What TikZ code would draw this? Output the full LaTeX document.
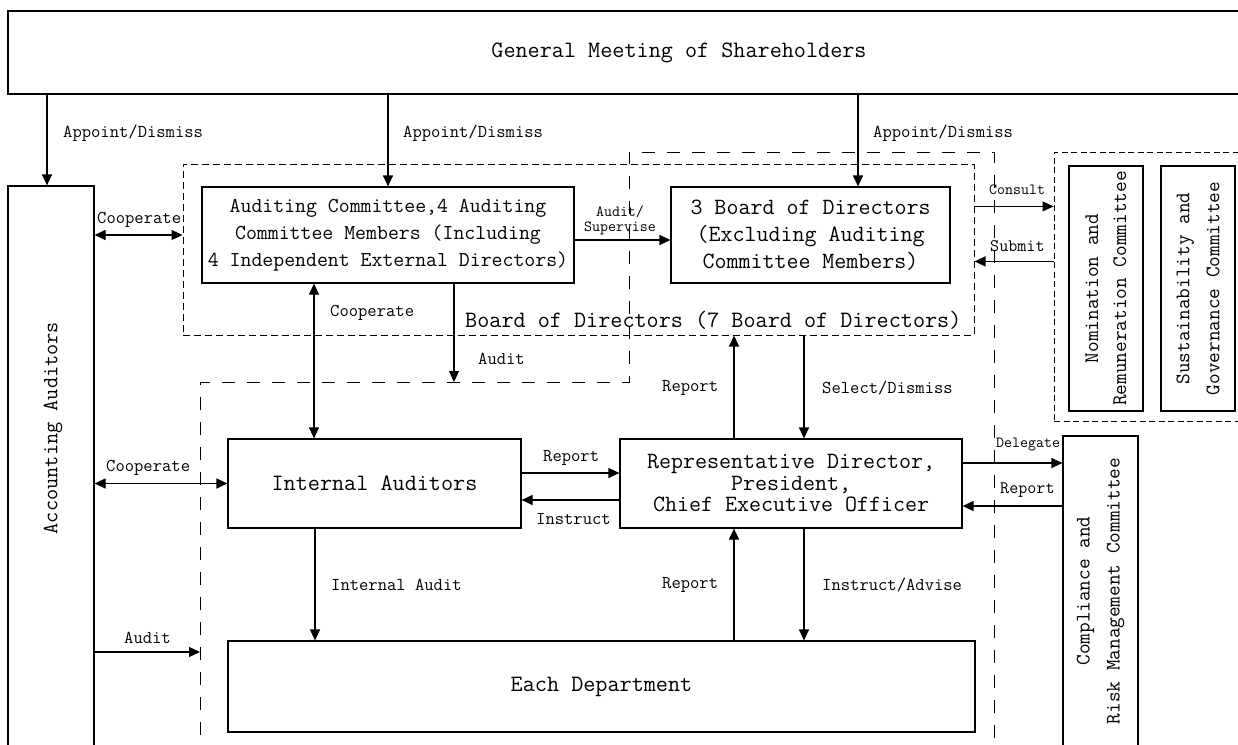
\documentclass[tikz,border=0pt]{standalone}
\usetikzlibrary{arrows.meta,calc}
\begin{document}
\begin{tikzpicture}[x=1pt,y=-1pt,
  box/.style={draw, line width=1.2pt, inner sep=0pt, align=center},
  lbl/.style={inner sep=0pt, anchor=west, font={\ttfamily\fontsize{18.1}{18.1}\selectfont}},
  slbl/.style={inner sep=0pt, align=center, font={\ttfamily\fontsize{15.5}{15}\selectfont}},
  arr/.style={line width=1.2pt, -{Triangle[length=11pt,width=10pt]}},
  dbl/.style={line width=1.2pt, {Triangle[length=11pt,width=10pt]}-{Triangle[length=11pt,width=10pt]}},
  fdash/.style={line width=1pt, dash pattern=on 7pt off 4pt},
  ldash/.style={line width=1pt, dash pattern=on 13pt off 12pt},
  ndash/.style={line width=1pt, dash pattern=on 6pt off 3.5pt},
  bigfont/.style={font={\ttfamily\fontsize{23.5}{27}\selectfont}},
]
\clip (0,0) rectangle (1238,744);
\fill[white] (0,0) rectangle (1238,744);

% ---------- boxes ----------
\node[box, bigfont, minimum width=1342pt, minimum height=83pt] (gm) at (679,52.5) {General Meeting of Shareholders};

\node[box, minimum width=86pt, minimum height=580pt] (acc) at (51,476) {};
\node[rotate=90, inner sep=0pt, font={\ttfamily\fontsize{21.7}{21.7}\selectfont}] (acctxt) at (53,428) {Accounting Auditors};

\node[draw, fdash, minimum width=791pt, minimum height=171pt, inner sep=0pt] (bodbox) at (578.5,249.5) {};
\node[inner sep=0pt, anchor=west, bigfont] (bodlbl) at (465,320) {Board of Directors (7 Board of Directors)};

\node[box, minimum width=372pt, minimum height=96pt, font={\ttfamily\fontsize{21.2}{27}\selectfont}] (ac) at (388,235)
  {Auditing Committee,4 Auditing\\Committee Members (Including\\4 Independent External Directors)};
\node[box, minimum width=279pt, minimum height=96pt, font={\ttfamily\fontsize{23.3}{27}\selectfont}] (bod3) at (810.5,235)
  {3 Board of Directors\\(Excluding Auditing\\Committee Members)};

\coordinate (exBL) at (200,760);
\coordinate (exTL) at (200,382);
\coordinate (exM)  at (629,382);
\coordinate (exMT) at (629,152);
\coordinate (exTR) at (994,152);
\coordinate (exBR) at (994,760);
\draw[ldash] (exBL) -- (exTL) -- (exM) -- (exMT) -- (exTR) -- (exBR);

\node[box, bigfont, minimum width=293pt, minimum height=89pt] (ia) at (374.5,483.5) {Internal Auditors};
\node[box, minimum width=342pt, minimum height=89pt, font={\ttfamily\fontsize{23.3}{21.5}\selectfont}] (rd) at (791,483.5)
  {Representative Director,\\President,\\Chief Executive Officer};
\node[box, bigfont, minimum width=747pt, minimum height=91pt] (dept) at (601.5,686.5) {Each Department};

\node[draw, ndash, minimum width=200pt, minimum height=269pt, inner sep=0pt] (nomdash) at (1154,286.5) {};
\node[box, rotate=90, minimum width=245pt, minimum height=74pt, font={\ttfamily\fontsize{20.7}{28}\selectfont}] (nom) at (1106,288.5)
  {Nomination and\\Remuneration Committee};
\node[box, rotate=90, minimum width=245pt, minimum height=74pt, font={\ttfamily\fontsize{20.7}{30}\selectfont}] (sust) at (1198,288.5)
  {Sustainability and\\Governance Committee};
\node[box, rotate=90, minimum width=310pt, minimum height=75pt, font={\ttfamily\fontsize{20.7}{30}\selectfont}] (comp) at (1100.5,591)
  {Compliance and\\Risk Management Committee};

% ---------- connectors ----------
\coordinate (t1) at ($(acc.north)+(-4,0)$);
\draw[arr] (gm.south -| t1) -- (t1);
\draw[arr] (gm.south -| ac.north) -- (ac.north);
\coordinate (t3) at ($(bod3.north)+(47.5,0)$);
\draw[arr] (gm.south -| t3) -- (t3);

\draw[dbl] (acc.east |- ac.west) -- (bodbox.west |- ac.west);
\coordinate (as1) at ($(ac.east)+(0,5)$);
\draw[arr] (as1) -- (bod3.west |- as1);

\coordinate (cv) at ($(ac.south)+(-74,0)$);
\draw[dbl] (cv) -- (ia.north -| cv);
\coordinate (au) at ($(ac.south)+(66,0)$);
\draw[arr] (au) -- (au |- exTL);

\draw[dbl] (acc.east |- ia.west) -- (ia.west);
\coordinate (r1) at ($(ia.east)+(0,-10.5)$);
\draw[arr] (r1) -- (rd.west |- r1);
\coordinate (i1) at ($(rd.west)+(0,16.5)$);
\draw[arr] (i1) -- (ia.east |- i1);

\coordinate (rup) at ($(rd.north)+(-57,0)$);
\draw[arr] (rup) -- (rup |- bodbox.south);
\coordinate (sel) at ($(rd.north)+(13,0)$);
\draw[arr] (sel |- bodbox.south) -- (sel);

\coordinate (iad) at ($(ia.south)+(-59.5,0)$);
\draw[arr] (iad) -- (iad |- dept.north);
\coordinate (rdn) at ($(rd.south)+(-57,0)$);
\draw[arr] (rdn |- dept.north) -- (rdn);
\coordinate (ins) at ($(rd.south)+(13,0)$);
\draw[arr] (ins) -- (ins |- dept.north);

\coordinate (exA) at (200,652);
\draw[arr] (acc.east |- exA) -- (exA);

\coordinate (con) at ($(bodbox.east |- bod3.north)+(0,20)$);
\draw[arr] (con) -- (nomdash.west |- con);
\coordinate (sub) at ($(bodbox.east |- bod3.north)+(0,75)$);
\draw[arr] (nomdash.west |- sub) -- (sub);

\coordinate (del) at ($(rd.east)+(0,-20.5)$);
\draw[arr] (del) -- (comp.north |- del);
\coordinate (rep) at ($(rd.east)+(0,22.5)$);
\draw[arr] (comp.north |- rep) -- (rep);

% ---------- labels ----------
\node[lbl] (l1) at (63,133) {Appoint/Dismiss};
\node[lbl] (l2) at (403,133) {Appoint/Dismiss};
\node[lbl] (l3) at (873,133) {Appoint/Dismiss};
\node[lbl] (l4) at (97,220) {Cooperate};
\node[slbl] (l5) at (620,220) {Audit/\\Supervise};
\node[lbl] (l6) at (330,313) {Cooperate};
\node[lbl] (l7) at (478,359) {Audit};
\node[lbl] (l8) at (662,388) {Report};
\node[lbl] (l9) at (822,388) {Select/Dismiss};
\node[slbl, anchor=west] (l10) at (989,190) {Consult};
\node[lbl, font={\ttfamily\fontsize{17.6}{17.6}\selectfont}] (l11) at (990,246) {Submit};
\node[lbl] (l12) at (106,468) {Cooperate};
\node[lbl] (l13) at (543,458) {Report};
\node[lbl] (l14) at (536,519) {Instruct};
\node[slbl, anchor=west] (l15) at (996,445) {Delegate};
\node[lbl, font={\ttfamily\fontsize{17.6}{17.6}\selectfont}] (l16) at (1000,490) {Report};
\node[lbl] (l17) at (331,585) {Internal Audit};
\node[lbl] (l18) at (662,585) {Report};
\node[lbl] (l19) at (822,585) {Instruct/Advise};
\node[lbl] (l20) at (124,638) {Audit};
\end{tikzpicture}
\end{document}
